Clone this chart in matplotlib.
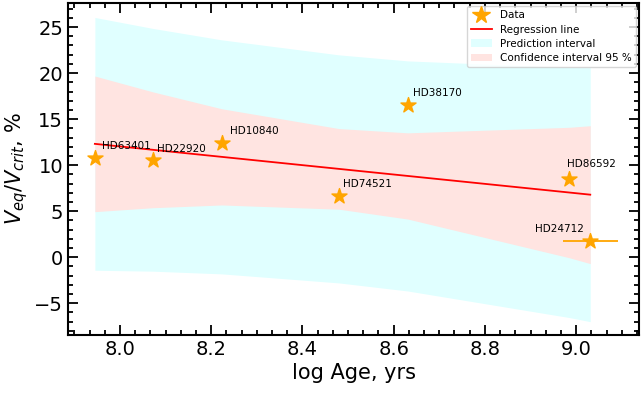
import numpy as np
import matplotlib
matplotlib.use('Agg')
import matplotlib.pyplot as plt
from matplotlib.ticker import MultipleLocator
from matplotlib.patches import Patch
from matplotlib.lines import Line2D

# stars: log age and equatorial / critical velocity ratio (%)
names = ['HD63401', 'HD22920', 'HD10840', 'HD74521', 'HD38170', 'HD86592', 'HD24712']
log_age = np.array([7.945, 8.072, 8.223, 8.480, 8.631, 8.985, 9.031])
v_ratio = np.array([10.77, 10.60, 12.40, 6.60, 16.50, 8.53, 1.72])
age_err = np.array([0, 0, 0, 0, 0, 0, 0.06])

# label offsets in pixels from each star
label_dx = [7, 4, 8, 4, 5, -2, -55]
label_dy = [9, 8, 9, 9, 9, 12, 9]

# ordinary least squares fit + 95% bands
n = len(log_age)
slope, intercept = np.polyfit(log_age, v_ratio, 1)
order = np.argsort(log_age)
xs = log_age[order]
fit = slope * xs + intercept
resid = v_ratio - (slope * log_age + intercept)
s = np.sqrt(np.sum(resid**2) / (n - 2))
t_crit = 2.571  # t(0.975, dof=5)
sxx = np.sum((log_age - log_age.mean())**2)
lev = 1 / n + (xs - log_age.mean())**2 / sxx
conf = t_crit * s * np.sqrt(lev)
pred = t_crit * s * np.sqrt(1 + lev)

fig, ax = plt.subplots(figsize=(6.41, 3.95), dpi=100)
fig.subplots_adjust(left=0.106, right=0.997, bottom=0.152, top=0.992)

ax.fill_between(xs, fit - pred, fit + pred, color='lightcyan', linewidth=0)
ax.fill_between(xs, fit - conf, fit + conf, color='mistyrose', linewidth=0)
ax.plot(xs, fit, color='red', linewidth=1.3)

ax.errorbar(log_age, v_ratio, xerr=age_err, fmt='none', ecolor='orange', elinewidth=1.3)
ax.scatter(log_age, v_ratio, marker='*', s=130, color='orange', zorder=3)

for name, x, y, dx, dy in zip(names, log_age, v_ratio, label_dx, label_dy):
    ax.annotate(name, (x, y), xytext=(dx, dy), textcoords='offset pixels',
                fontsize=7.5, color='black')

ax.set_xlim(7.886, 9.138)
ax.set_ylim(-8.45, 27.6)

ax.xaxis.set_major_locator(MultipleLocator(0.2))
ax.xaxis.set_minor_locator(MultipleLocator(0.2 / 6))
ax.yaxis.set_major_locator(MultipleLocator(5))
ax.yaxis.set_minor_locator(MultipleLocator(1))
ax.tick_params(which='both', direction='in', top=True, right=True, width=1.3)
ax.tick_params(which='major', length=7, labelsize=14)
ax.tick_params(which='minor', length=3.5)
for sp in ax.spines.values():
    sp.set_linewidth(1.5)

ax.set_xlabel('log Age, yrs', fontsize=15, labelpad=3)
ax.set_ylabel(r'$V_{eq}/V_{crit}$, %', fontsize=15, labelpad=3)

handles = [
    Line2D([], [], marker='*', color='orange', linestyle='none', markersize=13),
    Line2D([], [], color='red', linewidth=1.3),
    Patch(facecolor='lightcyan'),
    Patch(facecolor='mistyrose'),
]
labels = ['Data', 'Regression line', 'Prediction interval', 'Confidence interval 95 %']
ax.legend(handles, labels, loc='upper right', fontsize=7.5, borderaxespad=0.3,
          handlelength=2.0, labelspacing=0.4)

fig.savefig('out.png', dpi=100)
